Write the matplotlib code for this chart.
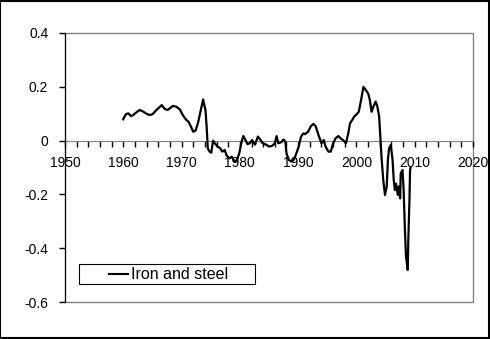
#!/usr/bin/env python3
import matplotlib
matplotlib.use('Agg')
import matplotlib.pyplot as plt
from matplotlib.patches import Rectangle
from matplotlib.ticker import MultipleLocator

# Values (year, index value)
years = [
    1960.0, 1960.1, 1960.5, 1960.9, 1961.3, 1961.7, 1962.2, 1962.8, 1963.4,
    1963.9, 1964.5, 1965.0, 1965.7, 1966.2, 1966.6, 1967.1, 1967.6, 1968.0,
    1968.5, 1969.1, 1969.7, 1970.2, 1970.8, 1971.2, 1971.6, 1972.0, 1972.4,
    1972.8, 1973.3, 1973.7, 1973.9, 1974.1, 1974.3, 1974.5, 1974.8, 1975.1,
    1975.4, 1975.7, 1976.2, 1976.6, 1977.0, 1977.4, 1977.7, 1978.2, 1978.6,
    1979.1, 1979.5, 1979.9, 1980.3, 1980.6, 1980.9, 1981.3, 1981.7, 1982.1,
    1982.6, 1983.1, 1983.5, 1983.9, 1984.5, 1985.0, 1985.5, 1986.0, 1986.3,
    1986.6, 1987.1, 1987.5, 1987.8, 1988.0, 1988.4, 1988.9, 1989.3, 1989.7,
    1990.1, 1990.5, 1990.9, 1991.2, 1991.7, 1992.2, 1992.6, 1993.0, 1993.5,
    1994.0, 1994.4, 1994.7, 1995.2, 1995.6, 1996.0, 1996.4, 1996.9, 1997.3,
    1997.7, 1998.2, 1998.6, 1998.9, 1999.3, 1999.6, 1999.9, 2000.4, 2000.8,
    2001.2, 2001.6, 2002.0, 2002.3, 2002.6, 2002.9, 2003.3, 2003.6, 2003.9,
    2004.1, 2004.3, 2004.6, 2004.9, 2005.2, 2005.4, 2005.6, 2005.9, 2006.2,
    2006.4, 2006.6, 2006.8, 2007.1, 2007.3, 2007.5, 2007.6, 2007.9, 2008.1,
    2008.3, 2008.5, 2008.8, 2008.9, 2009.1, 2009.2, 2009.3,
]
values = [
    0.079, 0.085, 0.099, 0.101, 0.091, 0.095, 0.104, 0.114, 0.108,
    0.101, 0.095, 0.098, 0.114, 0.124, 0.132, 0.118, 0.114, 0.120,
    0.129, 0.126, 0.116, 0.095, 0.077, 0.070, 0.052, 0.033, 0.037,
    0.064, 0.114, 0.153, 0.132, 0.114, 0.052, -0.029, -0.041, -0.045,
    0.000, -0.010, -0.023, -0.028, -0.041, -0.035, -0.054, -0.066, -0.060,
    -0.078, -0.072, -0.047, -0.004, 0.017, 0.005, -0.013, -0.010, 0.002,
    -0.015, 0.015, 0.004, -0.010, -0.015, -0.022, -0.020, -0.010, 0.017,
    -0.010, -0.006, 0.004, -0.004, -0.047, -0.072, -0.078, -0.070, -0.047,
    -0.022, 0.015, 0.027, 0.024, 0.033, 0.054, 0.062, 0.054, 0.020,
    -0.010, 0.002, -0.022, -0.041, -0.041, -0.010, 0.008, 0.017, 0.008,
    0.002, -0.010, 0.027, 0.064, 0.077, 0.089, 0.095, 0.107, 0.151,
    0.200, 0.188, 0.176, 0.151, 0.107, 0.126, 0.145, 0.126, 0.089,
    0.015, -0.060, -0.146, -0.202, -0.170, -0.072, -0.029, -0.016, -0.072,
    -0.146, -0.184, -0.160, -0.202, -0.170, -0.215, -0.122, -0.109, -0.184,
    -0.320, -0.430, -0.481, -0.370, -0.220, -0.109, -0.100,
]
series_label = 'Iron and steel'
xticks = [1950, 1960, 1970, 1980, 1990, 2000, 2010, 2020]
yticks = [0.4, 0.2, 0.0, -0.2, -0.4, -0.6]
ytick_labels = ['0.4', '0.2', '0', '-0.2', '-0.4', '-0.6']


def main():
    plt.rcParams['font.family'] = ['Liberation Sans', 'DejaVu Sans']
    plt.rcParams['font.size'] = 10

    fig = plt.figure(figsize=(4.9, 3.39), dpi=100)
    ax = fig.add_axes([65 / 490, 37 / 339, 408 / 490, 269 / 339])

    # Plot area border (gray), drawn as a rectangle in axes coords
    ax.add_patch(Rectangle((0, 0), 1, 1, transform=ax.transAxes, fill=False,
                           edgecolor='#808080', lw=1.0, zorder=1,
                           clip_on=False))

    ax.plot(years, values, color='black', lw=1.6, zorder=3)

    ax.set_xlim(1950, 2020)
    ax.set_ylim(-0.6, 0.4)

    # Category axis crosses at zero
    ax.spines['bottom'].set_position(('data', 0))
    ax.spines['bottom'].set_color('#808080')
    ax.spines['top'].set_visible(False)
    ax.spines['right'].set_visible(False)
    ax.spines['left'].set_color('black')
    ax.spines['left'].set_zorder(4)

    ax.set_xticks(xticks)
    ax.set_xticklabels([str(t) for t in xticks])
    ax.xaxis.set_minor_locator(MultipleLocator(2))
    ax.tick_params(axis='x', which='both', direction='out', length=4,
                   width=1, color='black', pad=7)
    ax.set_yticks(yticks)
    ax.set_yticklabels(ytick_labels)
    ax.tick_params(axis='y', direction='out', length=4, width=1,
                   color='black', pad=8)

    # Legend box (wide, Excel style)
    ax.add_patch(Rectangle((0.035, 0.066), 0.431, 0.074,
                           transform=ax.transAxes, fill=True,
                           facecolor='white', edgecolor='black', lw=0.8,
                           zorder=5))
    ax.plot([0.109, 0.155], [0.103, 0.103], transform=ax.transAxes,
            color='black', lw=1.5, zorder=6)
    ax.text(0.162, 0.103, series_label, transform=ax.transAxes,
            ha='left', va='center', fontsize=11.5, zorder=6)

    # Outer chart border
    fig.patches.append(Rectangle((0.001, 0.002), 0.997, 0.996,
                                 transform=fig.transFigure, fill=False,
                                 edgecolor='black', lw=1.5))

    fig.savefig('out.png', dpi=100)


if __name__ == '__main__':
    main()
